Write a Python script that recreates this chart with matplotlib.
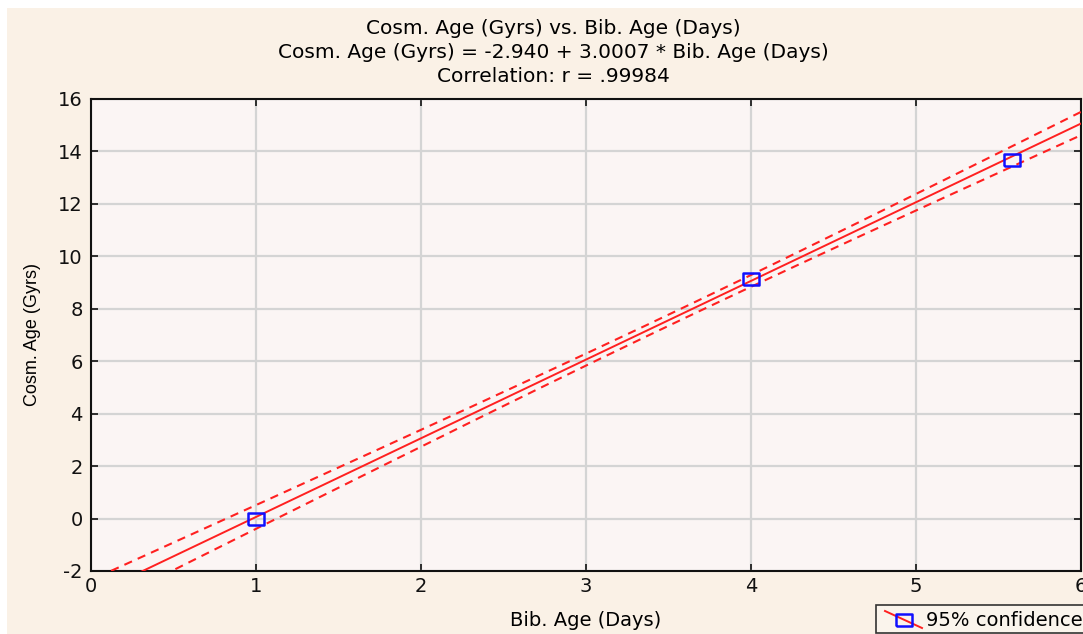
import numpy as np
import matplotlib
matplotlib.use("Agg")
import matplotlib.pyplot as plt
from matplotlib.patches import Rectangle
from matplotlib.lines import Line2D

# ---- data ----
bib_age = [1.0, 4.0, 5.58]          # days
cosm_age = [0.0, 9.12, 13.67]       # Gyrs
intercept = -2.940
slope = 3.0007
r_value = ".99984"
# confidence band shape (half-width^2 = band_a + band_b*(x-band_center)^2)
band_a = 0.045
band_b = 0.025
band_center = 3.53

x_ticks = [0, 1, 2, 3, 4, 5, 6]
y_ticks = [-2, 0, 2, 4, 6, 8, 10, 12, 14, 16]

plt.rcParams['font.family'] = ['DejaVu Sans']
plt.rcParams['axes.unicode_minus'] = False

W, H = 1083, 634
fig = plt.figure(figsize=(W / 100, H / 100), dpi=100)
fig.patch.set_facecolor('white')
bg = Rectangle((7 / W, 0), 1 - 7 / W, 1 - 8 / H, transform=fig.transFigure,
               facecolor='#FAF1E6', edgecolor='none', zorder=-10)
fig.patches.append(bg)

ax = fig.add_axes([91 / W, 1 - 571 / H, (1081 - 91) / W, (571 - 99) / H])
ax.set_facecolor('#FBF5F4')

xs = np.linspace(-0.2, 6.2, 400)
yfit = intercept + slope * xs
hw = np.sqrt(band_a + band_b * (xs - band_center) ** 2)
ax.plot(xs, yfit, color='#FF2020', lw=1.4, zorder=3)
ax.plot(xs, yfit + hw, color='#FF2020', lw=1.5, ls=(0, (4, 3)), zorder=3)
ax.plot(xs, yfit - hw, color='#FF2020', lw=1.5, ls=(0, (4, 3)), zorder=3)

rect_marker = [(-1, -0.8), (1, -0.8), (1, 0.8), (-1, 0.8), (-1, -0.8)]
ax.plot(bib_age, cosm_age, ls='none', marker=rect_marker, markersize=11,
        markerfacecolor='none', markeredgecolor='#1010FF', markeredgewidth=1.8,
        zorder=4)

ax.set_xlim(0, 6)
ax.set_ylim(-2, 16)
ax.set_xticks(x_ticks)
ax.set_yticks(y_ticks)
ax.grid(True, color='#D4D4D4', lw=1.6, zorder=0)
ax.set_axisbelow(True)
for s in ax.spines.values():
    s.set_linewidth(1.5)
    s.set_color('#111111')
ax.tick_params(direction='in', length=5, width=1.2, labelsize=14,
               top=True, right=True, pad=6, colors='#111111')
ax.tick_params(axis='x', pad=4)

ax.set_xlabel('Bib. Age (Days)', fontsize=14, labelpad=11)
ax.set_ylabel('Cosm. Age (Gyrs)', fontsize=13, labelpad=12,
              family=['Liberation Sans', 'DejaVu Sans'])

cx = 553 / W
fig.text(cx, 1 - 29 / H, 'Cosm. Age (Gyrs) vs. Bib. Age (Days)', ha='center',
         va='center', fontsize=14.5)
fig.text(cx, 1 - 52 / H,
         'Cosm. Age (Gyrs) = %.3f + %.4f * Bib. Age (Days)' % (intercept, slope),
         ha='center', va='center', fontsize=14.5)
fig.text(cx, 1 - 76 / H, 'Correlation: r = ' + r_value, ha='center',
         va='center', fontsize=14.5)

# legend (partly cut off at figure edge)
lg = Rectangle((876 / W, 1 - 633 / H), 260 / W, 28 / H, transform=fig.transFigure,
               facecolor='#FAF4EC', edgecolor='#333333', lw=1.2, zorder=5)
fig.patches.append(lg)
fig.lines.append(Line2D([885 / W, 922 / W], [1 - 611 / H, 1 - 628 / H],
                        transform=fig.transFigure, color='#FF2020', lw=1.4, zorder=6))
fig.lines.append(Line2D([904 / W], [1 - 619.5 / H], transform=fig.transFigure,
                        marker=rect_marker, markersize=11, markerfacecolor='none',
                        markeredgecolor='#1010FF', markeredgewidth=1.8, zorder=7))
fig.text(926 / W, 1 - 620 / H, '95% confidence', ha='left', va='center',
         fontsize=14, zorder=8)

fig.savefig('out.png', dpi=100, facecolor=fig.get_facecolor())
